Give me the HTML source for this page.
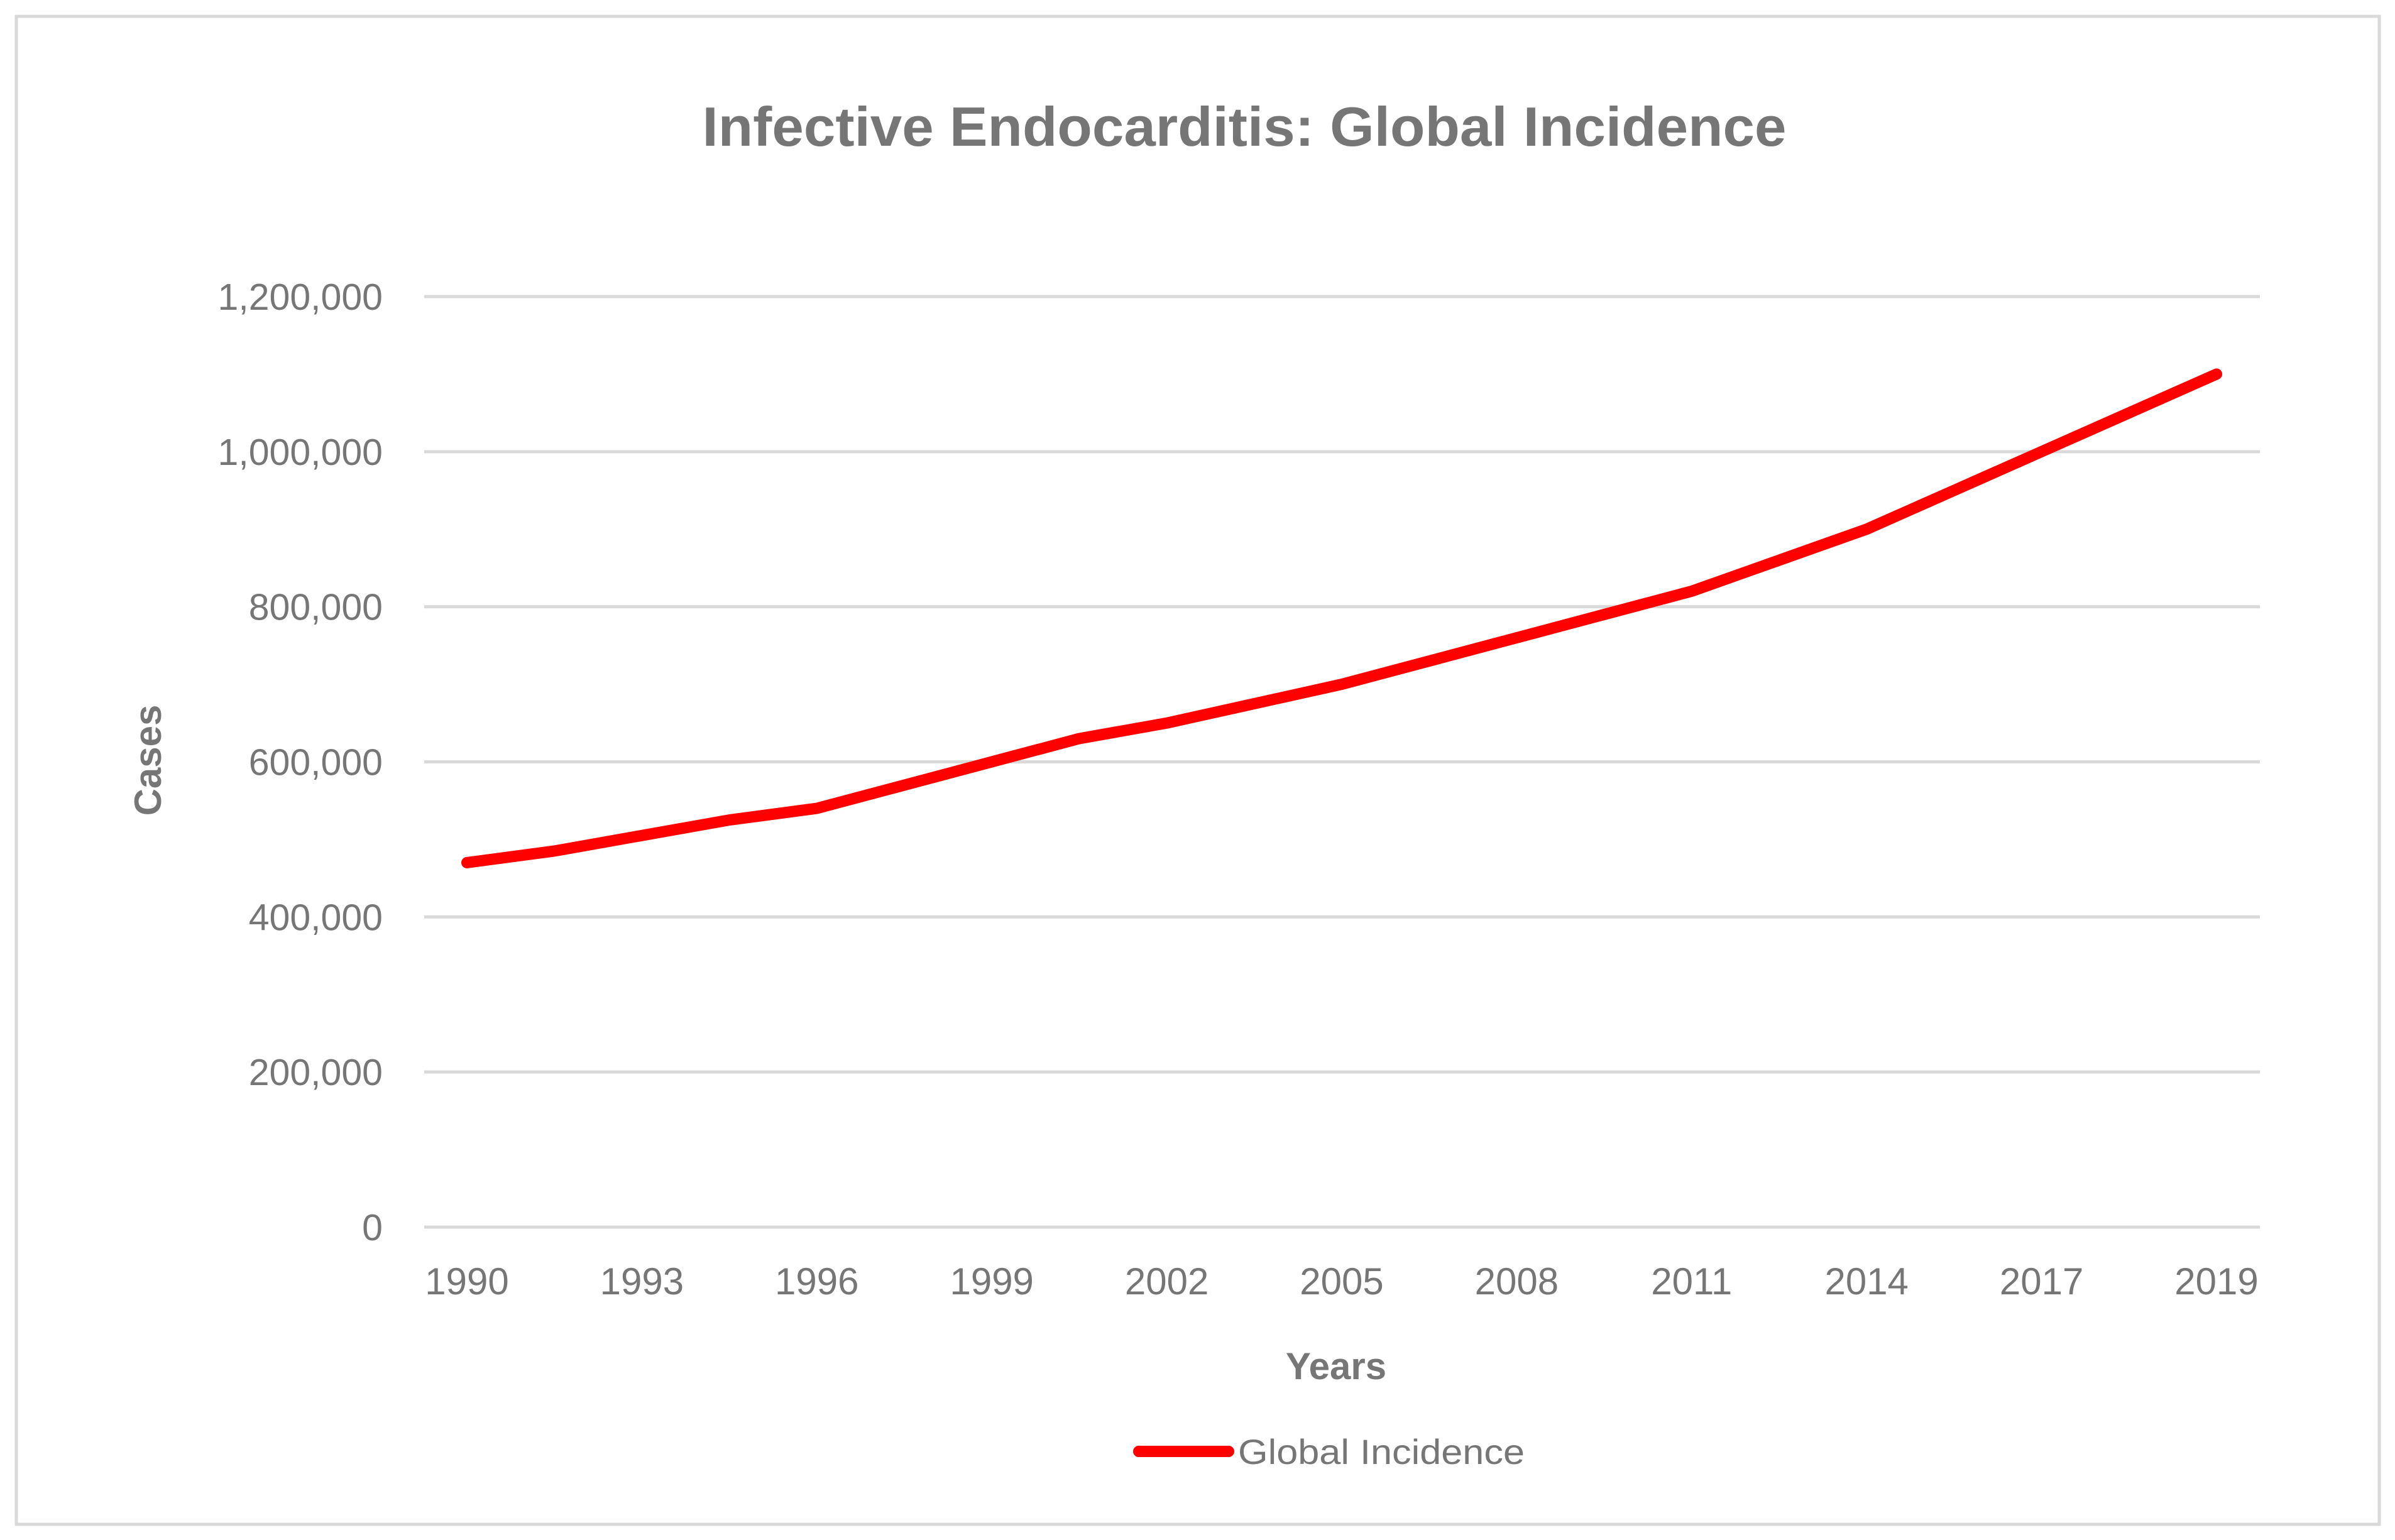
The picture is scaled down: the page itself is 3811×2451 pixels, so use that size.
<!DOCTYPE html>
<html><head><meta charset="utf-8"><style>
html,body{margin:0;padding:0;background:#fff;}
svg{display:block;font-family:"Liberation Sans",sans-serif;}
</style></head><body>
<svg id="chart" width="3811" height="2451" viewBox="0 0 3811 2451">
<rect x="26" y="26" width="3760" height="2400" fill="#fff" stroke="#d9d9d9" stroke-width="5"/>
<text x="1980" y="232" text-anchor="middle" font-size="88" font-weight="bold" fill="#767676" textLength="1725" lengthAdjust="spacingAndGlyphs">Infective Endocarditis: Global Incidence</text>
<g id="grid"></g>
<g id="yticks"></g>
<g id="xticks"></g>
<path id="line" fill="none" stroke="#ff0000" stroke-width="18" stroke-linejoin="round" stroke-linecap="round"/>
<text x="2126" y="2195" text-anchor="middle" font-size="60" font-weight="bold" fill="#767676">Years</text>
<text transform="translate(256,1210) rotate(-90)" text-anchor="middle" font-size="60" font-weight="bold" fill="#767676">Cases</text>
<g>
<line x1="1812" y1="2310" x2="1955" y2="2310" stroke="#ff0000" stroke-width="18" stroke-linecap="round"/>
<text x="1970" y="2330" font-size="56" fill="#767676" textLength="456" lengthAdjust="spacingAndGlyphs">Global Incidence</text>
</g>
</svg>
<script>
const categories=["1990","1991","1993","1994","1996","1997","1999","2000","2002","2003","2005","2006","2008","2009","2011","2012","2014","2015","2017","2018","2019"];
const values=[470000,485000,505000,525000,540000,570000,600000,630000,650000,675000,700000,730000,760000,790000,820000,860000,900000,950000,1000000,1050000,1100000];
const yTicks=[0,200000,400000,600000,800000,1000000,1200000];
const yTickLabels=["0","200,000","400,000","600,000","800,000","1,000,000","1,200,000"];
const NS="http://www.w3.org/2000/svg";
const plotL=675,plotR=3596,y0=1953,yTop=472,yMax=1200000;
const cx0=743,cx1=3527;
function xs(i){return cx0+(cx1-cx0)*i/(categories.length-1);}
function ys(v){return y0-(y0-yTop)*v/yMax;}
const grid=document.getElementById('grid'),yt=document.getElementById('yticks'),xt=document.getElementById('xticks');
yTicks.forEach((t,i)=>{
 const l=document.createElementNS(NS,'line');
 l.setAttribute('x1',plotL);l.setAttribute('x2',plotR);l.setAttribute('y1',ys(t));l.setAttribute('y2',ys(t));
 l.setAttribute('stroke','#d9d9d9');l.setAttribute('stroke-width','5');
 
 
 grid.appendChild(l);
 const tx=document.createElementNS(NS,'text');
 tx.setAttribute('x',609);tx.setAttribute('y',ys(t)+21);tx.setAttribute('text-anchor','end');
 tx.setAttribute('font-size','59');tx.setAttribute('fill','#767676');
 tx.textContent=yTickLabels[i];
 
 
 yt.appendChild(tx);
});
categories.forEach((c,i)=>{
 if(i%2!==0)return;
 const tx=document.createElementNS(NS,'text');
 tx.setAttribute('x',xs(i));tx.setAttribute('y',2060);tx.setAttribute('text-anchor','middle');
 tx.setAttribute('font-size','60');tx.setAttribute('fill','#767676');
 tx.textContent=c;
 
 
 xt.appendChild(tx);
});
document.getElementById('line').setAttribute('d',values.map((v,i)=>(i?'L':'M')+xs(i)+','+ys(v)).join(' '));
</script>
</body></html>
